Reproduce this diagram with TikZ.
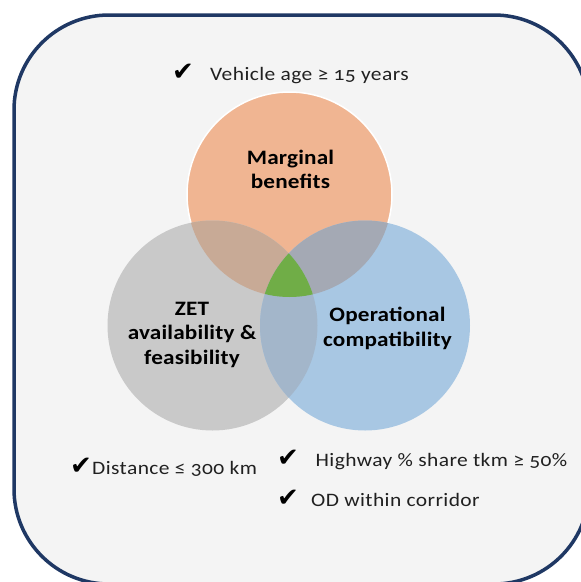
\documentclass[tikz,border=0pt]{standalone}
\usepackage{fontspec}
\setmainfont{Carlito}[Numbers=OldStyle, FakeStretch=1.13, LetterSpace=1]
\newfontfamily\checkfont{DejaVu Sans}
\definecolor{pagebg}{HTML}{F4F4F4}
\definecolor{framecol}{HTML}{1F3864}
\definecolor{orangec}{HTML}{F0B592}
\definecolor{grayc}{HTML}{C9C9C9}
\definecolor{bluec}{HTML}{A8C7E3}
\definecolor{ogc}{HTML}{C8AA96}
\definecolor{obc}{HTML}{A4A9B4}
\definecolor{gbc}{HTML}{A3B6CA}
\definecolor{greenc}{HTML}{70AD47}
\definecolor{notec}{HTML}{202020}
\begin{document}
\begin{tikzpicture}[x=1pt, y=-1pt,
  frame/.style={draw=framecol, line width=3.5pt, fill=pagebg, rounded corners=95pt},
  setlabel/.style={font=\bfseries\fontsize{20.5}{24.4}\selectfont, align=center, inner sep=0pt, text=black},
  tick/.style={font=\checkfont\fontsize{26}{26}\selectfont, inner sep=0pt, anchor=base, text=black},
  note/.style={font=\fontsize{19}{22}\selectfont\addfontfeatures{LetterSpace=2.2}, inner sep=0pt, anchor=base west, text=notec}]
\useasboundingbox (0,0) rectangle (581,582);
\clip (0,0) rectangle (581,582);
\fill[white] (0,0) rectangle (581,582);
% outer rounded panel
\draw[frame] (14,15) rectangle (589,584);
% circle centres
\coordinate (cO) at (289.5,194.5);
\coordinate (cG) at (212.5,325.5);
\coordinate (cB) at (365,325.5);
\def\rO{102.5}
\def\rG{105}
\def\rB{105}
% single circles
\filldraw[fill=orangec, draw=white, line width=1.5pt] (cO) circle[radius=\rO];
\fill[grayc] (cG) circle[radius=\rG];
\fill[bluec] (cB) circle[radius=\rB];
% pairwise overlaps
\begin{scope}
  \clip (cO) circle[radius=\rO];
  \fill[ogc] (cG) circle[radius=\rG];
  \fill[obc] (cB) circle[radius=\rB];
\end{scope}
\begin{scope}
  \clip (cG) circle[radius=\rG];
  \fill[gbc] (cB) circle[radius=\rB];
\end{scope}
% common region of all three
\begin{scope}
  \clip (cO) circle[radius=\rO];
  \clip (cG) circle[radius=\rG];
  \fill[greenc] (cB) circle[radius=\rB];
\end{scope}
% set labels (base = baseline of the last line)
\node[setlabel, anchor=base] (lblO) at (290.5,188.5) {Marginal\\benefits};
\node[setlabel, anchor=base] (lblG) at (192,364) {ZET\\availability \&\\feasibility};
\node[setlabel, anchor=base] (lblB) at (387.5,346) {Operational\\compatibility};
% criteria
\node[tick] (t1) at (183,80) {✔};
\node[note] (n1) at (210,80) {Vehicle age ≥ 15 years};
\node[tick] (t2) at (81,474) {✔};
\node[note] (n2) at (92,474) {Distance ≤ 300 km};
\node[tick] (t3) at (288,466) {✔};
\node[note] (n3) at (315.5,466) {Highway \% share tkm ≥ 50\%};
\node[tick] (t4) at (288,506) {✔};
\node[note] (n4) at (311,506) {OD within corridor};
\end{tikzpicture}
\end{document}
